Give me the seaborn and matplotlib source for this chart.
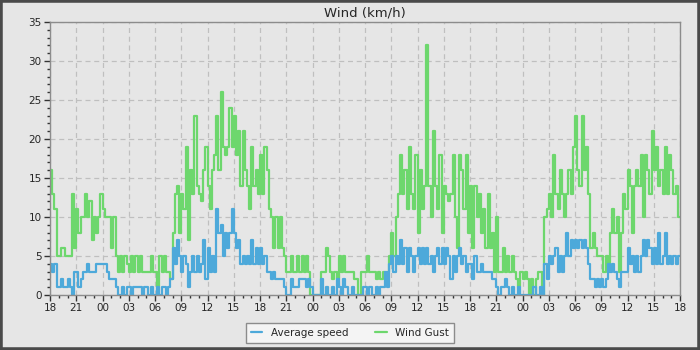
import pandas as pd
import matplotlib
matplotlib.use("Agg")
import matplotlib.pyplot as plt
import matplotlib.dates as mdates
from matplotlib.ticker import MultipleLocator
from matplotlib.patches import Rectangle
import seaborn as sns

# lecturas cada 15 minutos (4 por hora), desde las 18:00, 72 horas
start_time = "2024-05-10 18:00"

wind_gust = [
    16, 13, 11, 5,   5, 6, 6, 5,   5, 5, 13, 6,   11, 8, 10, 10,
    13, 10, 12, 7,   10, 8, 10, 13,   11, 10, 10, 10,   6, 10, 5, 3,
    5, 3, 5, 4,   3, 5, 3, 5,   3, 5, 3, 3,   3, 3, 5, 3,
    3, 1, 5, 3,   5, 3, 3, 2,   8, 13, 14, 8,   13, 11, 19, 7,
    16, 13, 23, 14,   13, 12, 16, 19,   14, 11, 16, 18,   23, 16, 26, 19,
    18, 19, 24, 19,   23, 18, 21, 14,   21, 16, 14, 11,   19, 14, 16, 13,
    18, 13, 19, 16,   11, 10, 6, 10,   6, 10, 6, 5,   3, 3, 5, 3,
    3, 5, 3, 5,   3, 5, 3, 0,   0, 0, 0, 0,   3, 3, 6, 5,
    3, 2, 3, 2,   5, 3, 5, 3,   3, 3, 3, 2,   2, 0, 3, 3,
    3, 5, 3, 3,   3, 2, 3, 2,   3, 2, 3, 5,   8, 5, 10, 13,
    18, 13, 16, 11,   19, 13, 11, 18,   8, 16, 11, 14,   32, 14, 10, 21,
    14, 11, 18, 8,   14, 13, 12, 13,   18, 10, 6, 18,   16, 11, 18, 8,
    14, 6, 14, 10,   13, 8, 11, 6,   13, 6, 8, 3,   10, 3, 3, 6,
    3, 5, 3, 5,   3, 2, 1, 3,   2, 3, 2, 0,   2, 0, 2, 3,
    3, 0, 10, 11,   13, 10, 18, 13,   11, 16, 13, 10,   13, 16, 13, 19,
    23, 16, 14, 23,   16, 19, 13, 6,   8, 6, 5, 5,   5, 3, 5, 3,
    8, 11, 8, 10,   3, 8, 13, 11,   16, 14, 8, 14,   16, 14, 18, 10,
    18, 16, 13, 21,   16, 19, 14, 16,   13, 19, 13, 18,   16, 13, 14, 10,
    10,
]

average_speed = [
    4, 3, 4, 1,   1, 2, 1, 1,   2, 1, 0, 3,   3, 1, 2, 3,
    3, 4, 3, 3,   3, 4, 4, 4,   4, 4, 3, 2,   2, 2, 1, 0,
    0, 1, 0, 1,   1, 0, 1, 1,   1, 1, 0, 1,   1, 0, 1, 0,
    0, 1, 0, 1,   1, 0, 1, 2,   6, 4, 7, 5,   3, 5, 4, 1,
    3, 5, 3, 5,   3, 4, 7, 2,   6, 3, 5, 3,   11, 8, 9, 5,
    8, 6, 8, 11,   8, 6, 7, 4,   5, 4, 5, 4,   7, 4, 6, 4,
    6, 4, 5, 3,   3, 2, 3, 2,   2, 2, 2, 1,   0, 0, 2, 1,
    1, 1, 2, 2,   2, 1, 2, 1,   0, 0, 0, 0,   2, 0, 1, 0,
    0, 1, 0, 2,   1, 0, 2, 1,   0, 0, 1, 0,   0, 0, 0, 1,
    1, 0, 1, 0,   0, 1, 0, 1,   1, 3, 1, 4,   5, 3, 5, 4,
    7, 4, 6, 3,   6, 5, 3, 5,   6, 4, 6, 4,   6, 4, 5, 3,
    5, 6, 4, 6,   4, 6, 5, 2,   5, 3, 5, 6,   4, 5, 3, 4,
    4, 2, 5, 3,   3, 4, 3, 3,   3, 3, 2, 2,   1, 0, 1, 1,
    2, 1, 0, 1,   0, 0, 1, 0,   0, 0, 0, 0,   0, 1, 0, 0,
    1, 0, 4, 2,   5, 4, 5, 6,   3, 5, 3, 5,   8, 5, 7, 6,
    7, 6, 7, 6,   7, 6, 4, 2,   2, 1, 2, 1,   2, 1, 2, 4,
    3, 4, 3, 2,   1, 3, 3, 3,   6, 4, 5, 3,   5, 3, 5, 7,
    5, 7, 6, 4,   6, 4, 8, 4,   5, 8, 4, 5,   4, 5, 4, 5,
    5,
]

series_names = ["Average speed", "Wind Gust"]
series_colors = ["#4da9da", "#6dd76d"]

times = pd.date_range(start_time, periods=len(wind_gust), freq="15min")

sns.set_style("ticks", {"axes.facecolor": "#e6e6e6", "figure.facecolor": "#e6e6e6"})
plt.rcParams["font.family"] = ["DejaVu Sans"]

fig = plt.figure(figsize=(7, 3.5), dpi=100)
ax = fig.add_axes([50 / 700, 1 - 295 / 350, 630 / 700, 273 / 350])

# primero la racha, luego la media encima
sns.lineplot(x=times, y=wind_gust, ax=ax, color=series_colors[1], label=series_names[1],
             drawstyle="steps-post", linewidth=1.6, estimator=None)
sns.lineplot(x=times, y=average_speed, ax=ax, color=series_colors[0], label=series_names[0],
             drawstyle="steps-post", linewidth=1.6, estimator=None)

ax.set_xlim(times[0], times[-1])
ax.set_ylim(0, 35)
ax.yaxis.set_major_locator(MultipleLocator(5))
ax.yaxis.set_minor_locator(MultipleLocator(1))
ax.xaxis.set_major_locator(mdates.HourLocator(byhour=range(0, 24, 3)))
ax.xaxis.set_minor_locator(mdates.HourLocator())
ax.xaxis.set_major_formatter(mdates.DateFormatter("%H"))

ax.grid(True, which="major", color="#bfbfbf", linestyle=(0, (4, 3)), linewidth=0.9)
ax.set_axisbelow(True)
for s in ax.spines.values():
    s.set_color("#8c8c8c")
    s.set_linewidth(1)
ax.tick_params(which="major", length=4, width=1, color="#333333", labelsize=7.5, pad=2)
ax.tick_params(which="minor", length=2.5, width=1, color="#333333")
ax.set_xlabel("")
ax.set_ylabel("")
ax.set_title("Wind (km/h)", fontsize=9.5, pad=4)

handles, labels = ax.get_legend_handles_labels()
if ax.get_legend() is not None:
    ax.get_legend().remove()
leg = fig.legend([handles[1], handles[0]], [labels[1], labels[0]], loc="lower center",
                 bbox_to_anchor=(0.5, 0.02), ncol=2, fontsize=7.5, frameon=True,
                 fancybox=False, edgecolor="#8c8c8c", facecolor="#f4f4f4", framealpha=1,
                 handlelength=1.1, columnspacing=2.6, borderpad=0.5, borderaxespad=0)
leg.get_frame().set_linewidth(1)

# borde exterior oscuro
fig.patches.append(Rectangle((0, 0), 1, 1, transform=fig.transFigure, fill=False,
                             edgecolor="#4a4a4a", linewidth=4))

fig.savefig("out.png", dpi=100)
